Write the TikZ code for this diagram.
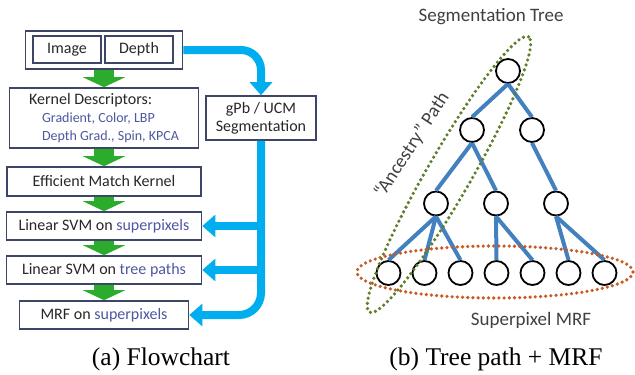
\documentclass[tikz,border=0pt]{standalone}
\usepackage{fontspec}
\setmainfont{Liberation Serif}
\setsansfont{Carlito}
\usetikzlibrary{arrows.meta}

\definecolor{boxline}{RGB}{62,70,104}
\definecolor{flowblue}{RGB}{0,174,239}
\definecolor{flowgreen}{RGB}{44,172,44}
\definecolor{labelblue}{RGB}{78,88,160}
\definecolor{textgray}{RGB}{40,40,40}
\definecolor{titlegray}{RGB}{64,64,64}
\definecolor{edgeblue}{RGB}{66,128,192}
\definecolor{pathgreen}{RGB}{96,126,44}
\definecolor{mrforange}{RGB}{200,90,36}

\tikzset{
  box/.style={draw=boxline, line width=1.6pt, fill=white, inner sep=0pt,
    text=textgray, font=\sffamily\fontsize{16}{18}\selectfont},
  greenarrow/.style={draw=flowgreen, line width=20pt,
    -{Triangle[length=10pt,width=42pt]}},
  bluearrow/.style={draw=flowblue, line width=8pt,
    -{Triangle[length=13pt,width=22pt]}},
  treenode/.style={circle, draw=black, line width=1.8pt, fill=white,
    minimum size=24pt, inner sep=0pt},
  treeedge/.style={draw=edgeblue, line width=4pt},
  treetext/.style={font=\sffamily\fontsize{19}{22}\selectfont, text=titlegray},
  dotline/.style={line width=3.6pt, dash pattern=on 0pt off 5.2pt, line cap=round},
  caption/.style={font=\fontsize{25.5}{28}\selectfont, text=black}
}

\newcommand{\bluetext}[1]{{\color{labelblue}#1}}

\begin{document}
\begin{tikzpicture}[x=1pt, y=-1pt]
    \useasboundingbox (0,0) rectangle (635,375);

    % flowchart boxes
    \node[box, minimum width=157pt, minimum height=38pt] (in) at (104,50) {};
    \node[box, minimum width=68pt, minimum height=27pt] (image) at (67,49.5) {Image};
    \node[box, minimum width=68pt, minimum height=27pt] (depth) at (139,49.5) {Depth};
    \node[box, minimum width=189pt, minimum height=60pt, align=left] (kd) at (104,118)
        {Kernel Descriptors:\\
         \hspace*{13pt}{\fontsize{14}{17}\selectfont\bluetext{Gradient, Color, LBP}}\\
         \hspace*{13pt}{\fontsize{14}{17}\selectfont\bluetext{Depth Grad., Spin, KPCA}}};
    \node[box, minimum width=194pt, minimum height=29pt] (emk) at (104,181.5) {Efficient Match Kernel};
    \node[box, minimum width=195pt, minimum height=28pt] (svmsp) at (104,226) {Linear SVM on \bluetext{superpixels}};
    \node[box, minimum width=195pt, minimum height=28pt] (svmtp) at (104,270) {Linear SVM on \bluetext{tree paths}};
    \node[box, minimum width=169pt, minimum height=28pt] (mrf) at (104,315) {MRF on \bluetext{superpixels}};
    \node[box, minimum width=110pt, minimum height=44pt, align=center] (gpb) at (261,118) {gPb / UCM\\Segmentation};

    % green flow
    \foreach \u/\v in {in/kd, kd/emk, emk/svmsp, svmsp/svmtp, svmtp/mrf}
        \draw[greenarrow] (\u.south) -- (\v.north);

    % segmentation feeds
    \draw[bluearrow, rounded corners=20pt] (in.east) -| (gpb.north);
    \draw[bluearrow, rounded corners=22pt] (gpb.south) |- (mrf.east);
    \draw[bluearrow] (gpb.south |- svmsp.east) -- (svmsp.east);
    \draw[bluearrow] (gpb.south |- svmtp.east) -- (svmtp.east);

    % tree
    \node[treetext] (treetitle) at (491,17) {Segmentation Tree};
    \node[treenode] (root) at (508,71) {};
    \node[treenode] (a) at (472,130) {};
    \node[treenode] (b) at (532,130) {};
    \node[treenode] (c1) at (436,203.5) {};
    \node[treenode] (c2) at (496,203.5) {};
    \node[treenode] (c3) at (556,203.5) {};
    \foreach \i/\x in {1/388.5,2/424.5,3/460.5,4/496.5,5/532.5,6/568.5,7/604.5}
        \node[treenode] (l\i) at (\x,273) {};

    \foreach \p/\c in {root/a, root/b, a/c1, a/c2, b/c3,
                       c1/l1, c1/l2, c1/l3, c2/l4, c2/l5, c3/l6, c3/l7}
        \draw[treeedge] (\p.south) -- (\c.north);

    \draw[dotline, pathgreen, rotate around={60:(449,174.5)}]
        (449,174.5) ellipse [x radius=159pt, y radius=22pt];
    \draw[dotline, mrforange] (495,272) ellipse [x radius=138pt, y radius=26pt];

    \node[treetext, rotate=57] (pathlabel) at (412,145) {“Ancestry” Path};
    \node[treetext] (mrflabel) at (531,320) {Superpixel MRF};

    % captions
    \node[caption] (capa) at (161,359) {(a) Flowchart};
    \node[caption] (capb) at (496,359) {(b) Tree path + MRF};
\end{tikzpicture}
\end{document}
